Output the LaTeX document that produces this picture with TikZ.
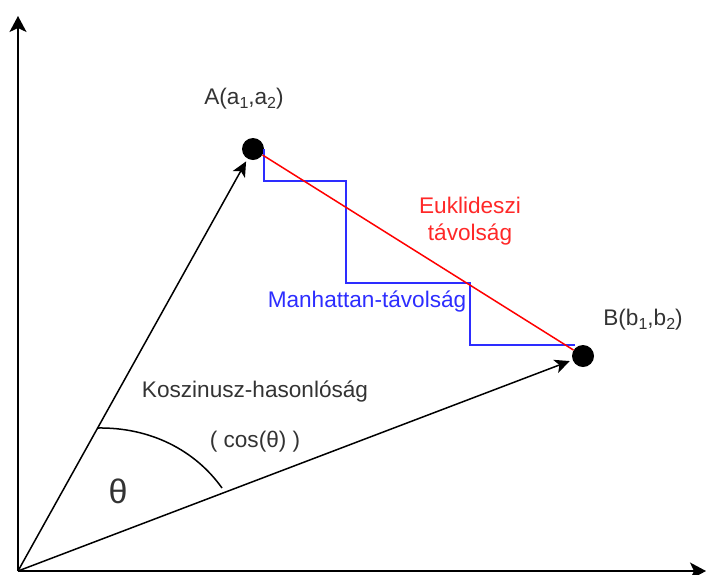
\documentclass[tikz,border=0pt]{standalone}
\usepackage{fontspec}
\setmainfont{Liberation Sans}
\usetikzlibrary{arrows.meta,positioning}
\definecolor{txtgray}{RGB}{51,51,51}
\definecolor{eukred}{RGB}{255,0,0}
\definecolor{eukredtxt}{RGB}{255,40,40}
\definecolor{manblue}{RGB}{45,45,255}
\newcommand{\lowidx}[1]{\raisebox{-4pt}{\fontsize{16}{16}\selectfont #1}}

\begin{document}
\begin{tikzpicture}[
    x=1pt, y=-1pt,
    every node/.style={font=\fontsize{22.6}{27}\selectfont, align=center, text=txtgray, inner sep=0pt},
    axis/.style={-{Stealth[length=16pt,width=17pt,inset=4pt]}, line width=1.7pt},
    vec/.style={-{Stealth[length=15pt,width=14pt,inset=4pt]}, line width=1.5pt, shorten >=3pt},
    dot/.style={circle, fill=black, minimum size=22pt},
    euk/.style={draw=eukred, line width=1.5pt},
    manh/.style={draw=manblue, line width=1.5pt}
]
\useasboundingbox (0,0) rectangle (706,574);
% axes
\coordinate (o) at (18,571);
\coordinate (ytip) at (18,16);
\coordinate (xtip) at (706,571);
\draw[axis] (o) -- (ytip);
\draw[axis] (o) -- (xtip);
% points
\node (a) [dot] at (253,149) {};
\node (b) [dot] at (583,356) {};
\node (alabel) [above=28pt of a, xshift=-9pt] {A(a\lowidx{1},a\lowidx{2})};
\node (blabel) [above=14pt of b, xshift=60pt] {B(b\lowidx{1},b\lowidx{2})};
% vectors
\draw[vec] (o) -- (a);
\draw[vec] (o) -- (b);
% distances
\draw[manh] (a.east) |- (346,181) |- (470,283) |- ([xshift=-8pt]b.north);
\draw[euk] (a) -- (b);
\node (eukl) [text=eukredtxt] at (470,221) {Euklideszi\\távolság};
\node (manl) [text=manblue] at (367,302) {Manhattan-távolság};
% angle
\draw[line width=1.5pt] (97,428) .. controls (150,427) and (195,450) .. (222,488);
\node (theta) [font=\fontsize{34}{34}\selectfont] at (118,491) {θ};
\node (kosz) at (255,392) {Koszinusz-hasonlóság};
\node (cosl) [below=28pt of kosz] {( cos(θ) )};
\end{tikzpicture}
\end{document}
